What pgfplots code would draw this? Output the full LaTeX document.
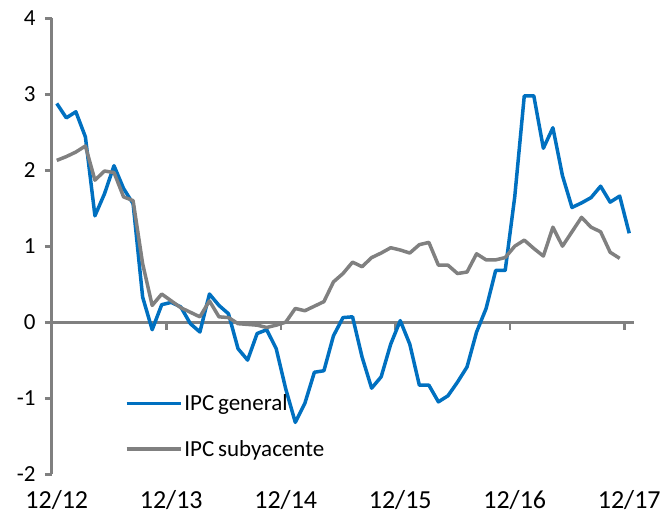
\documentclass[border=0pt]{standalone}
\usepackage{fontspec}
\setmainfont{Carlito}
\usepackage{pgfplots}
\pgfplotsset{compat=1.18}
\definecolor{ipcblue}{RGB}{0,112,192}
\definecolor{ipcgray}{RGB}{128,128,128}
\begin{document}
\begin{tikzpicture}
\useasboundingbox (-52pt,-42pt) rectangle (608pt,474pt);
\begin{axis}[
 at={(0,0)}, anchor=south west,
 scale only axis, width=582pt, height=455.6pt,
 xmin=-0.5, xmax=60.5, ymin=-2, ymax=4,
 axis y line=left, axis x line=bottom,
 x axis line style={draw=none},
 y axis line style={ipcgray, line width=3pt, -},
 ytick={-2,...,4},
 ytick style={ipcgray, line width=3pt},
 major tick length=7pt,
 tick align=outside,
 xtick={0,12,...,60},
 xticklabels={12/12,12/13,12/14,12/15,12/16,12/17},
 xtick style={draw=none},
 yticklabel style={font=\fontsize{23}{23}\selectfont, xshift=-6pt},
 xticklabel style={font=\fontsize{26}{26}\selectfont, yshift=-6pt},
 /pgf/number format/assume math mode=true,
 clip=false,
 legend style={draw=none, fill=none, at={(axis cs:6.8,-1.37)}, anchor=west,
   font=\fontsize{23}{23}\selectfont, row sep=24pt},
 legend cell align=left,
 legend image code/.code={\draw[#1] (0pt,0pt) -- (54pt,0pt);},
]
\draw[ipcgray, line width=3pt] (axis cs:-0.5,0) -- (axis cs:60.5,0);
\pgfplotsinvokeforeach{11.5,23.5,35.5,47.5,59.5}{
  \draw[ipcgray, line width=2.5pt] (axis cs:#1,0) -- ([yshift=-8pt]axis cs:#1,0);
}
\addplot[ipcblue, line width=3.5pt, line join=round] coordinates {
(0,2.88)(1,2.69)(2,2.77)(3,2.44)(4,1.40)(5,1.69)(6,2.06)(7,1.76)(8,1.56)(9,0.33)
(10,-0.10)(11,0.23)(12,0.26)(13,0.20)(14,-0.02)(15,-0.13)(16,0.37)(17,0.22)(18,0.11)(19,-0.35)
(20,-0.50)(21,-0.15)(22,-0.10)(23,-0.35)(24,-0.88)(25,-1.32)(26,-1.07)(27,-0.66)(28,-0.64)(29,-0.18)
(30,0.06)(31,0.07)(32,-0.46)(33,-0.87)(34,-0.72)(35,-0.29)(36,0.02)(37,-0.29)(38,-0.83)(39,-0.83)
(40,-1.05)(41,-0.97)(42,-0.79)(43,-0.59)(44,-0.13)(45,0.18)(46,0.68)(47,0.68)(48,1.65)(49,2.98)
(50,2.98)(51,2.29)(52,2.56)(53,1.93)(54,1.51)(55,1.57)(56,1.64)(57,1.79)(58,1.58)(59,1.66)
(60,1.17)
};
\addlegendentry{IPC\,general}
\addplot[ipcgray, line width=3.5pt, line join=round] coordinates {
(0,2.13)(1,2.18)(2,2.24)(3,2.32)(4,1.87)(5,1.99)(6,1.97)(7,1.65)(8,1.60)(9,0.77)
(10,0.22)(11,0.37)(12,0.28)(13,0.19)(14,0.13)(15,0.07)(16,0.28)(17,0.07)(18,0.06)(19,-0.02)
(20,-0.03)(21,-0.04)(22,-0.07)(23,-0.04)(24,0.00)(25,0.18)(26,0.15)(27,0.21)(28,0.27)(29,0.53)
(30,0.64)(31,0.79)(32,0.73)(33,0.85)(34,0.91)(35,0.98)(36,0.95)(37,0.91)(38,1.02)(39,1.05)
(40,0.75)(41,0.75)(42,0.64)(43,0.66)(44,0.90)(45,0.82)(46,0.82)(47,0.85)(48,1.00)(49,1.08)
(50,0.97)(51,0.87)(52,1.25)(53,1.00)(54,1.19)(55,1.38)(56,1.25)(57,1.19)(58,0.92)(59,0.84)
};
\addlegendentry{IPC\,subyacente}
\end{axis}
\end{tikzpicture}
\end{document}
